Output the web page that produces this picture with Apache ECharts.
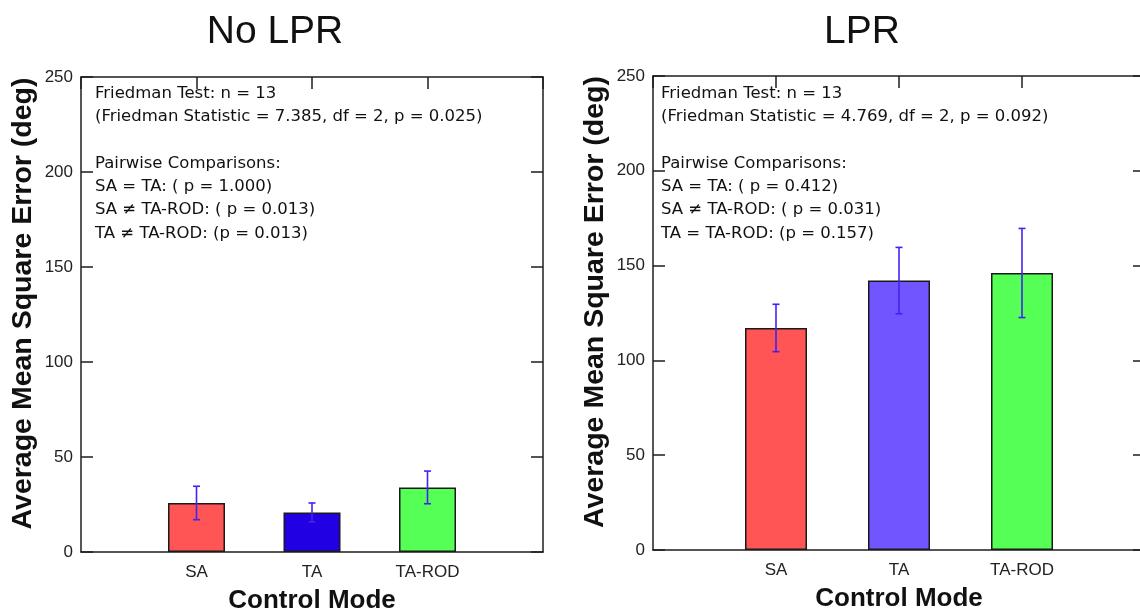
<!DOCTYPE html>
<html>
<head>
<meta charset="utf-8">
<script src="https://cdn.jsdelivr.net/npm/echarts@6/dist/echarts.min.js"></script>
<style>
    html, body {margin: 0; padding: 0; background: #fff;}
    #main {width: 1140px; height: 616px;}
</style>
</head>
<body>
<div id="main"></div>
<script>
// 数据
var aCategories = ['SA', 'TA', 'TA-ROD'];
var aCatPos = [1, 2, 3];
var aNoLprMean = [25.8, 20.8, 34.0];
var aNoLprErr = [8.8, 5.0, 8.6];
var aLprMean = [117.1, 142.1, 146.1];
var aLprErr = [12.5, 17.5, 23.5];
var aYTicks = [0, 50, 100, 150, 200, 250];
var aNoLprColors = ['#ff5555', '#2200e4', '#55ff55'];
var aLprColors = ['#ff5555', '#7155ff', '#55ff55'];
var aNoLprText = [
    'Friedman Test: n = 13',
    '(Friedman Statistic = 7.385, df = 2, p = 0.025)',
    '',
    'Pairwise Comparisons:',
    'SA = TA: ( p = 1.000)',
    'SA \u2260 TA-ROD: ( p = 0.013)',
    'TA \u2260 TA-ROD: (p = 0.013)'
];
var aLprText = [
    'Friedman Test: n = 13',
    '(Friedman Statistic = 4.769, df = 2, p = 0.092)',
    '',
    'Pairwise Comparisons:',
    'SA = TA: ( p = 0.412)',
    'SA \u2260 TA-ROD: ( p = 0.031)',
    'TA = TA-ROD: (p = 0.157)'
];

var sFont = '"Liberation Sans", Arial, "DejaVu Sans", sans-serif';
var sNoteFont = '"DejaVu Sans", "Liberation Sans", sans-serif';
var sAxisColor = '#1e1e1e';
var sErrColor = '#4422f0';

// 两个子图的位置（右图的右边框在画面外）
var aPanels = [
    {title: 'No LPR', titleX: 270, left: 81, top: 77, width: 462, height: 475, barWidth: 57,
        mean: aNoLprMean, err: aNoLprErr, colors: aNoLprColors, text: aNoLprText, textX: 95},
    {title: 'LPR', titleX: 857, left: 653, top: 76, width: 492, height: 474, barWidth: 62,
        mean: aLprMean, err: aLprErr, colors: aLprColors, text: aLprText, textX: 661}
];

function GetAxes(iGrid) {
    // onZero 要关掉，否则顶部/右侧的轴会跑到 0 的位置
    var jLine = {show: true, onZero: false, lineStyle: {color: sAxisColor, width: 1.5}};
    var jTick = {show: true, inside: true, length: 12, lineStyle: {color: sAxisColor, width: 1.5}};
    var aX = [
        {
            gridIndex: iGrid, type: 'value', position: 'bottom', min: 0, max: 4, interval: 1,
            axisLine: jLine, axisTick: {show: false}, splitLine: {show: false},
            axisLabel: {
                margin: 12, fontSize: 17, color: '#222', fontFamily: sFont,
                formatter: function (v) {
                    var k = aCatPos.indexOf(v);
                    return k >= 0 ? aCategories[k] : '';
                }
            },
            name: 'Control Mode', nameLocation: 'middle', nameGap: 36,
            nameTextStyle: {fontSize: 26, fontWeight: 'bold', color: '#111', fontFamily: sFont}
        },
        {
            gridIndex: iGrid, type: 'value', position: 'top', min: 0, max: 4, interval: 1,
            axisLine: jLine, axisTick: jTick, splitLine: {show: false}, axisLabel: {show: false}
        }
    ];
    var aY = [
        {
            gridIndex: iGrid, type: 'value', position: 'left',
            min: aYTicks[0], max: aYTicks[aYTicks.length - 1], interval: aYTicks[1] - aYTicks[0],
            axisLine: jLine, axisTick: jTick, splitLine: {show: false},
            axisLabel: {margin: 8, fontSize: 17, color: '#222', fontFamily: sFont},
            name: 'Average Mean Square Error (deg)', nameLocation: 'middle', nameGap: 43,
            nameTextStyle: {
                fontSize: 28.5, fontWeight: 'bold', color: '#111', fontFamily: sFont,
                padding: [0, 0, 0, 22]
            }
        },
        {
            gridIndex: iGrid, type: 'value', position: 'right',
            min: aYTicks[0], max: aYTicks[aYTicks.length - 1], interval: aYTicks[1] - aYTicks[0],
            axisLine: jLine, axisTick: jTick, splitLine: {show: false}, axisLabel: {show: false}
        }
    ];
    return {x: aX, y: aY};
}

function GetSeries(jPanel, iGrid) {
    var aBarData = [];
    var aErrData = [];
    for (var k = 0; k < aCategories.length; k++) {
        aBarData.push({value: [aCatPos[k], jPanel.mean[k]], itemStyle: {color: jPanel.colors[k]}});
        aErrData.push([aCatPos[k], jPanel.mean[k] - jPanel.err[k], jPanel.mean[k] + jPanel.err[k]]);
    }
    return [
        {
            type: 'bar', xAxisIndex: iGrid * 2, yAxisIndex: iGrid * 2, barWidth: jPanel.barWidth,
            itemStyle: {borderColor: '#1a1a1a', borderWidth: 1.5},
            data: aBarData, z: 2
        },
        {
            type: 'custom', xAxisIndex: iGrid * 2, yAxisIndex: iGrid * 2, z: 3,
            renderItem: function (params, api) {
                var pLow = api.coord([api.value(0), api.value(1)]);
                var pHigh = api.coord([api.value(0), api.value(2)]);
                var w = 3.5;
                var jStyle = {stroke: sErrColor, lineWidth: 1.6};
                return {
                    type: 'group',
                    children: [
                        {type: 'line', shape: {x1: pLow[0], y1: pLow[1], x2: pHigh[0], y2: pHigh[1]}, style: jStyle},
                        {type: 'line', shape: {x1: pLow[0] - w, y1: pLow[1], x2: pLow[0] + w, y2: pLow[1]}, style: jStyle},
                        {type: 'line', shape: {x1: pHigh[0] - w, y1: pHigh[1], x2: pHigh[0] + w, y2: pHigh[1]}, style: jStyle}
                    ]
                };
            },
            encode: {x: 0, y: [1, 2]},
            data: aErrData
        }
    ];
}

function GetOption() {
    var jOption = {
        animation: false,
        backgroundColor: '#fff',
        title: [], grid: [], xAxis: [], yAxis: [], series: [], graphic: []
    };
    for (var i = 0; i < aPanels.length; i++) {
        var p = aPanels[i];
        jOption.title.push({
            text: p.title, left: p.titleX, top: 8, textAlign: 'center',
            textStyle: {fontSize: 39, fontWeight: 'normal', color: '#111', fontFamily: sFont}
        });
        jOption.grid.push({
            left: p.left, top: p.top, width: p.width, height: p.height,
            outerBoundsMode: 'none'
        });
        var jAxes = GetAxes(i);
        jOption.xAxis = jOption.xAxis.concat(jAxes.x);
        jOption.yAxis = jOption.yAxis.concat(jAxes.y);
        jOption.series = jOption.series.concat(GetSeries(p, i));
        jOption.graphic.push({
            type: 'text', left: p.textX, top: 82, z: 10,
            style: {
                text: p.text.join('\n'), fontSize: 16.5, lineHeight: 23.3,
                fill: '#111', fontFamily: sNoteFont
            }
        });
    }
    return jOption;
}

function drawChart(sTagID) {
    var objectDom = document.getElementById(sTagID);
    var myChart = echarts.init(objectDom, null, {renderer: 'canvas'});
    myChart.setOption(GetOption());
    return myChart;
}

drawChart('main');
</script>
</body>
</html>
